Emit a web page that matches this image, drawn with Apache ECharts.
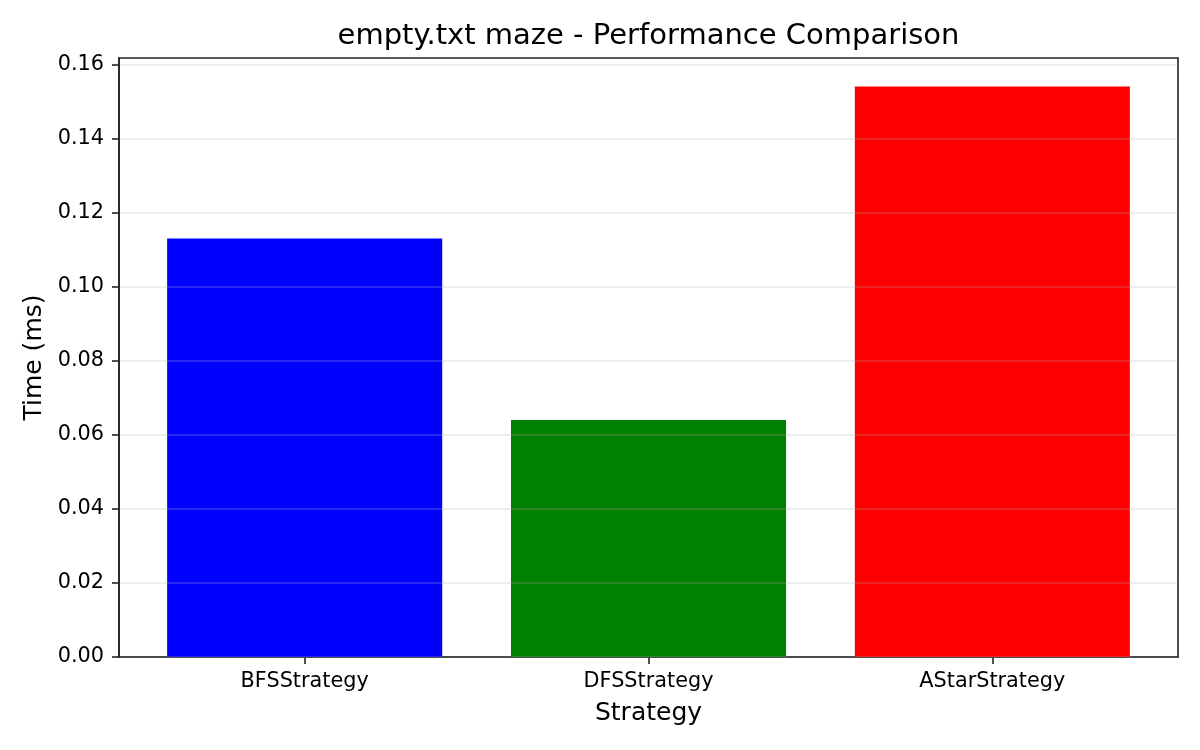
<!DOCTYPE html>
<html>
<head>
<meta charset="utf-8">
<title>empty.txt maze - Performance Comparison</title>
<script src="https://cdn.jsdelivr.net/npm/echarts@6/dist/echarts.min.js"></script>
<style>
    html, body { margin: 0; padding: 0; background: #fff; }
    #chart { width: 1200px; height: 750px; }
</style>
</head>
<body>
<div id="chart"></div>
<script>
// data
var strategies = ['BFSStrategy', 'DFSStrategy', 'AStarStrategy'];
var times = [0.113, 0.064, 0.154];
var barColors = ['#0000ff', '#008000', '#ff0000'];
var yTicks = [0, 0.02, 0.04, 0.06, 0.08, 0.1, 0.12, 0.14, 0.16];

(function () {
    'use strict';
    var font = 'DejaVu Sans';
    var chart = echarts.init(document.getElementById('chart'));

    // bars sit at 0,1,2 with width 0.8, matplotlib adds 5% margin
    var xMin = -0.4 - 0.14, xMax = strategies.length - 1 + 0.4 + 0.14;
    var yMax = Math.max.apply(null, times) * 1.05;
    var gridLeft = 119, gridRight = 22;
    var plotW = 1200 - gridLeft - gridRight;

    var barData = times.map(function (v, i) {
        return { value: [i, v], itemStyle: { color: barColors[i] } };
    });

    var option = {
        backgroundColor: '#fff',
        animation: false,
        textStyle: { fontFamily: font },
        title: {
            text: 'empty.txt maze - Performance Comparison',
            left: gridLeft + plotW / 2,
            textAlign: 'center',
            top: 22,
            padding: 0,
            textStyle: { fontFamily: font, fontSize: 29, fontWeight: 'normal', color: '#000' }
        },
        grid: {
            left: gridLeft, right: gridRight, top: 58, bottom: 93,
            containLabel: false,
            outerBoundsMode: 'none',
            show: true,
            borderColor: '#222',
            borderWidth: 1.6,
            backgroundColor: 'transparent'
        },
        xAxis: {
            type: 'value',
            min: xMin,
            max: xMax,
            name: 'Strategy',
            nameLocation: 'middle',
            nameGap: 44,
            nameTextStyle: { fontFamily: font, fontSize: 25, color: '#000' },
            axisLine: { show: true, onZero: false, lineStyle: { color: '#222', width: 1.6 } },
            axisTick: { show: true, length: 7, lineStyle: { color: '#222', width: 1.6 }, customValues: [0, 1, 2] },
            axisLabel: {
                customValues: [0, 1, 2],
                margin: 14,
                fontFamily: font, fontSize: 20.8, color: '#000',
                formatter: function (v) { return strategies[Math.round(v)] || ''; }
            },
            splitLine: { show: false }
        },
        yAxis: {
            type: 'value',
            min: 0,
            max: yMax,
            z: 5,
            name: 'Time (ms)',
            nameLocation: 'middle',
            nameGap: 70,
            nameTextStyle: { fontFamily: font, fontSize: 25, color: '#000' },
            axisLine: { show: true, onZero: false, lineStyle: { color: '#222', width: 1.6 } },
            axisTick: { show: true, length: 7, lineStyle: { color: '#222', width: 1.6 }, customValues: yTicks },
            axisLabel: {
                customValues: yTicks,
                margin: 15,
                fontFamily: font, fontSize: 20.8, color: '#000',
                formatter: function (v) { return v.toFixed(2); }
            },
            splitLine: { show: true, lineStyle: { color: 'rgba(176,176,176,0.3)', width: 1.6 } }
        },
        series: [{
            type: 'bar',
            data: barData,
            barWidth: plotW * 0.8 / (xMax - xMin),
            z: 2
        }]
    };
    chart.setOption(option);
    window.onresize = function () { chart.resize(); };
})();
</script>
</body>
</html>
